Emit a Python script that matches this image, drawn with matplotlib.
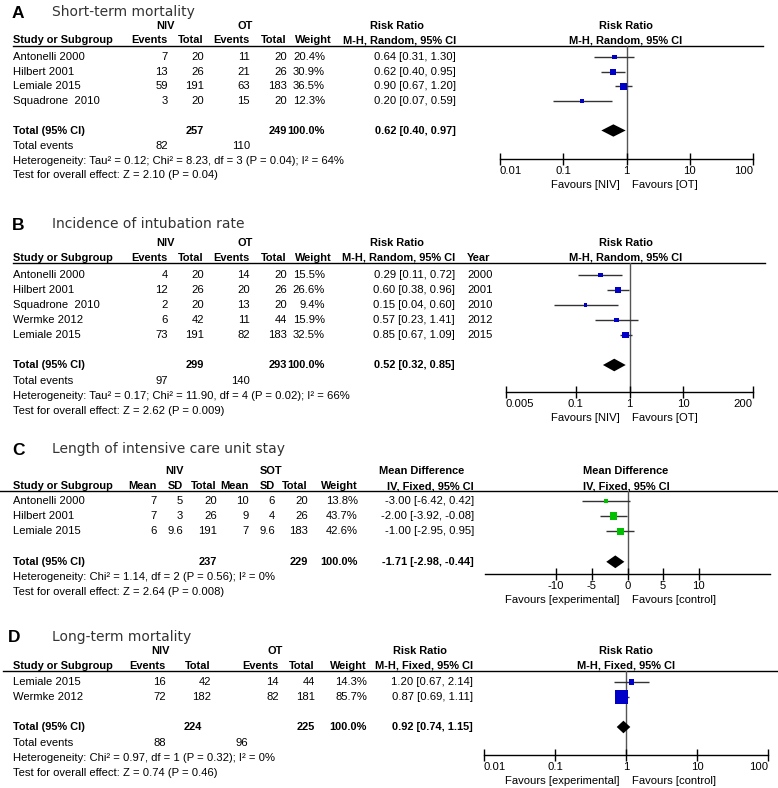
#!/usr/bin/env python
import numpy as np
import matplotlib
matplotlib.use('Agg')
import matplotlib.pyplot as plt
from matplotlib.ticker import NullLocator

# ---- A: short-term mortality
studies_a = ['Antonelli 2000', 'Hilbert 2001', 'Lemiale 2015', 'Squadrone  2010']
niv_ev_a = [7, 13, 59, 3]
niv_n_a = [20, 26, 191, 20]
ot_ev_a = [11, 21, 63, 15]
ot_n_a = [20, 26, 183, 20]
weight_a = [20.4, 30.9, 36.5, 12.3]
rr_a = [0.64, 0.62, 0.90, 0.20]
lo_a = [0.31, 0.40, 0.67, 0.07]
hi_a = [1.30, 0.95, 1.20, 0.59]
total_n_a = [257, 249]
total_rr_a = [0.62, 0.40, 0.97]
events_a = [82, 110]
stats_a = ['Heterogeneity: Tau\u00b2 = 0.12; Chi\u00b2 = 8.23, df = 3 (P = 0.04); I\u00b2 = 64%',
           'Test for overall effect: Z = 2.10 (P = 0.04)']

# ---- B: incidence of intubation
studies_b = ['Antonelli 2000', 'Hilbert 2001', 'Squadrone  2010', 'Wermke 2012', 'Lemiale 2015']
niv_ev_b = [4, 12, 2, 6, 73]
niv_n_b = [20, 26, 20, 42, 191]
ot_ev_b = [14, 20, 13, 11, 82]
ot_n_b = [20, 26, 20, 44, 183]
weight_b = [15.5, 26.6, 9.4, 15.9, 32.5]
rr_b = [0.29, 0.60, 0.15, 0.57, 0.85]
lo_b = [0.11, 0.38, 0.04, 0.23, 0.67]
hi_b = [0.72, 0.96, 0.60, 1.41, 1.09]
years_b = [2000, 2001, 2010, 2012, 2015]
total_n_b = [299, 293]
total_rr_b = [0.52, 0.32, 0.85]
events_b = [97, 140]
stats_b = ['Heterogeneity: Tau\u00b2 = 0.17; Chi\u00b2 = 11.90, df = 4 (P = 0.02); I\u00b2 = 66%',
           'Test for overall effect: Z = 2.62 (P = 0.009)']

# ---- C: ICU length of stay
studies_c = ['Antonelli 2000', 'Hilbert 2001', 'Lemiale 2015']
niv_mean_c = [7, 7, 6]
niv_sd_c = [5, 3, 9.6]
niv_n_c = [20, 26, 191]
sot_mean_c = [10, 9, 7]
sot_sd_c = [6, 4, 9.6]
sot_n_c = [20, 26, 183]
weight_c = [13.8, 43.7, 42.6]
md_c = [-3.00, -2.00, -1.00]
lo_c = [-6.42, -3.92, -2.95]
hi_c = [0.42, -0.08, 0.95]
total_n_c = [237, 229]
total_md_c = [-1.71, -2.98, -0.44]
stats_c = ['Heterogeneity: Chi\u00b2 = 1.14, df = 2 (P = 0.56); I\u00b2 = 0%',
           'Test for overall effect: Z = 2.64 (P = 0.008)']

# ---- D: long-term mortality
studies_d = ['Lemiale 2015', 'Wermke 2012']
niv_ev_d = [16, 72]
niv_n_d = [42, 182]
ot_ev_d = [14, 82]
ot_n_d = [44, 181]
weight_d = [14.3, 85.7]
rr_d = [1.20, 0.87]
lo_d = [0.67, 0.69]
hi_d = [2.14, 1.11]
total_n_d = [224, 225]
total_rr_d = [0.92, 0.74, 1.15]
events_d = [88, 96]
stats_d = ['Heterogeneity: Chi\u00b2 = 0.97, df = 1 (P = 0.32); I\u00b2 = 0%',
           'Test for overall effect: Z = 0.74 (P = 0.46)']

W, H = 778, 788
FS = 8.1
plt.rcParams['font.family'] = ['Liberation Sans', 'DejaVu Sans']

fig = plt.figure(figsize=(W / 100, H / 100), dpi=100)
bg = fig.add_axes([0, 0, 1, 1])
bg.set_xlim(0, W)
bg.set_ylim(H, 0)
bg.axis('off')


def t(x, y, s, ha='left', bold=False, size=None, **kw):
    if size is None:
        size = 7.9 if bold else FS
    bg.text(x, y, s, ha=ha, va='center', fontsize=size,
            fontweight='bold' if bold else 'normal', **kw)


def title(L, letter, name):
    t(L['letter_x'], L['y_title'] + 1, letter, bold=True, size=12.5)
    t(52, L['y_title'], name, size=10, family='DejaVu Sans', color='#333333')


def fmt_ci(e, l, h):
    return '%.2f [%.2f, %.2f]' % (e, l, h)


def forest(L, est, lo, hi, wt, tot, color, ref):
    x0, x1 = L['ax_x']
    ytop, ybot = L['y_line'], L['y_axis']
    ax = fig.add_axes([x0 / W, 1 - ybot / H, (x1 - x0) / W, (ybot - ytop) / H])
    ax.patch.set_visible(False)
    if L['log']:
        ax.set_xscale('log')
    ax.set_xlim(L['xlim'])
    ax.set_ylim((ybot - L['row0']) / L['pitch'], (ytop - L['row0']) / L['pitch'])
    rows = np.arange(len(est))
    ax.axvline(ref, color='#555555', lw=1, zorder=1)
    ax.hlines(rows, lo, hi, color='#333333', lw=1, zorder=2)
    ax.scatter(est, rows, s=(L['k'] * 0.72) ** 2 * np.array(wt), marker='s',
               color=color, lw=0, zorder=3)
    r = len(est) + 1
    ax.fill([tot[1], tot[0], tot[2], tot[0]], [r, r - 0.42, r, r + 0.42],
            color='black', lw=0, zorder=3)
    for s in ['left', 'right', 'top']:
        ax.spines[s].set_visible(False)
    ax.spines['bottom'].set_linewidth(1)
    ax.set_yticks([])
    ax.xaxis.set_minor_locator(NullLocator())
    ax.set_xticks(L['ticks'])
    labs = ax.set_xticklabels(L['ticklabels'])
    if L['ends_inside']:
        labs[0].set_ha('left')
        labs[-1].set_ha('right')
    ax.tick_params(axis='x', direction='inout', length=8, width=1,
                   labelsize=FS, pad=1)
    t(620, L['y_axis'] + 26, L['fav'][0], ha='right')
    t(632, L['y_axis'] + 26, L['fav'][1])


def binary_panel(L, letter, name, studies, ne, nn, oe, on, wt, est, lo, hi,
                 tot_n, tot, events, stats, years=None):
    title(L, letter, name)
    y1, y2 = L['y_h1'], L['y_h2']
    c = L['cols']
    t(c['niv_h'], y1, 'NIV', ha='center', bold=True)
    t(c['ot_h'], y1, 'OT', ha='center', bold=True)
    t(c['rr_h'], y1, 'Risk Ratio', ha='center', bold=True)
    t(626, y1, 'Risk Ratio', ha='center', bold=True)
    t(13, y2, 'Study or Subgroup', bold=True)
    t(c['ne'], y2, 'Events', ha='right', bold=True)
    t(c['nn'], y2, 'Total', ha='right', bold=True)
    t(c['oe'], y2, 'Events', ha='right', bold=True)
    t(c['on'], y2, 'Total', ha='right', bold=True)
    t(c['wt_h'], y2, 'Weight', ha='right', bold=True)
    t(c['rr'], y2, L['method'], ha='right', bold=True)
    t(626, y2, L['method'], ha='center', bold=True)
    if years is not None:
        t(c['year'], y2, 'Year', bold=True)
    bg.plot(L['line_x'], [L['y_line']] * 2, color='black', lw=1)
    for i in range(len(studies)):
        y = L['row0'] + i * L['pitch']
        t(13, y, studies[i])
        t(c['ne'], y, str(ne[i]), ha='right')
        t(c['nn'], y, str(nn[i]), ha='right')
        t(c['oe'], y, str(oe[i]), ha='right')
        t(c['on'], y, str(on[i]), ha='right')
        t(c['wt'], y, '%.1f%%' % wt[i], ha='right')
        t(c['rr'], y, fmt_ci(est[i], lo[i], hi[i]), ha='right')
        if years is not None:
            t(c['year'], y, str(years[i]))
    yt = L['row0'] + (len(studies) + 1) * L['pitch']
    p = L['pitch']
    t(13, yt, 'Total (95% CI)', bold=True)
    t(c['tot_nn'], yt, str(tot_n[0]), ha='right', bold=True)
    t(c['on'], yt, str(tot_n[1]), ha='right', bold=True)
    t(c['wt'], yt, '100.0%', ha='right', bold=True)
    t(c['rr'], yt, fmt_ci(*tot), ha='right', bold=True)
    t(13, yt + p * 1.05, 'Total events')
    t(c['ne'], yt + p * 1.05, str(events[0]), ha='right')
    t(c['tot_oe'], yt + p * 1.05, str(events[1]), ha='right')
    t(13, yt + p * 2.05, stats[0])
    t(13, yt + p * 3.05, stats[1])
    forest(L, est, lo, hi, wt, tot, '#0000C8', 1)


LA = dict(letter_x=12, y_title=12, y_h1=26, y_h2=40, y_line=45.5, line_x=[13, 763],
          row0=57, pitch=14.7, y_axis=159, ax_x=(500, 753), log=True,
          xlim=(0.01, 100), ticks=[0.01, 0.1, 1, 10, 100],
          ticklabels=['0.01', '0.1', '1', '10', '100'], ends_inside=True,
          fav=('Favours [NIV]', 'Favours [OT]'), k=1.1, method='M-H, Random, 95% CI',
          cols=dict(niv_h=166, ot_h=245, rr_h=397, ne=168, nn=204, oe=250, on=287,
                    wt=325, wt_h=332, rr=456, tot_nn=204, tot_oe=250))
binary_panel(LA, 'A', 'Short-term mortality', studies_a, niv_ev_a, niv_n_a, ot_ev_a,
             ot_n_a, weight_a, rr_a, lo_a, hi_a, total_n_a, total_rr_a, events_a, stats_a)

LB = dict(letter_x=12, y_title=224, y_h1=243, y_h2=258, y_line=263, line_x=[13, 765],
          row0=275, pitch=15, y_axis=392, ax_x=(506, 753), log=True,
          xlim=(0.005, 200), ticks=[0.005, 0.1, 1, 10, 200],
          ticklabels=['0.005', '0.1', '1', '10', '200'], ends_inside=True,
          fav=('Favours [NIV]', 'Favours [OT]'), k=1.13, method='M-H, Random, 95% CI',
          cols=dict(niv_h=166, ot_h=245, rr_h=397, ne=168, nn=204, oe=250, on=287,
                    wt=325, wt_h=332, rr=455, tot_nn=204, tot_oe=250, year=467))
binary_panel(LB, 'B', 'Incidence of intubation rate', studies_b, niv_ev_b, niv_n_b,
             ot_ev_b, ot_n_b, weight_b, rr_b, lo_b, hi_b, total_n_b, total_rr_b,
             events_b, stats_b, years=years_b)

# ---- C (continuous outcome)
LC = dict(letter_x=12, y_title=449, y_h1=471, y_h2=486, y_line=491, line_x=[0, 778],
          row0=501, pitch=15.2, y_axis=574, ax_x=(485, 770), log=False,
          xlim=(-20, 20), ticks=[-10, -5, 0, 5, 10],
          ticklabels=['-10', '-5', '0', '5', '10'], ends_inside=False,
          fav=('Favours [experimental]', 'Favours [control]'), k=1.12)
title(LC, 'C', 'Length of intensive care unit stay')
t(175, LC['y_h1'], 'NIV', ha='center', bold=True)
t(271, LC['y_h1'], 'SOT', ha='center', bold=True)
t(422, LC['y_h1'], 'Mean Difference', ha='center', bold=True)
t(626, LC['y_h1'], 'Mean Difference', ha='center', bold=True)
xc = [157, 183, 217, 249, 275, 308]
for x, s in zip(xc, ['Mean', 'SD', 'Total', 'Mean', 'SD', 'Total']):
    t(x, LC['y_h2'], s, ha='right', bold=True)
t(13, LC['y_h2'], 'Study or Subgroup', bold=True)
t(358, LC['y_h2'], 'Weight', ha='right', bold=True)
t(474, LC['y_h2'], 'IV, Fixed, 95% CI', ha='right', bold=True)
t(626, LC['y_h2'], 'IV, Fixed, 95% CI', ha='center', bold=True)
bg.plot(LC['line_x'], [LC['y_line']] * 2, color='black', lw=1)
for i in range(len(studies_c)):
    y = LC['row0'] + i * LC['pitch']
    t(13, y, studies_c[i])
    vals = [niv_mean_c[i], niv_sd_c[i], niv_n_c[i], sot_mean_c[i], sot_sd_c[i], sot_n_c[i]]
    for x, v in zip(xc, vals):
        t(x, y, '%g' % v, ha='right')
    t(358, y, '%.1f%%' % weight_c[i], ha='right')
    t(474, y, fmt_ci(md_c[i], lo_c[i], hi_c[i]), ha='right')
yt = LC['row0'] + (len(studies_c) + 1) * LC['pitch']
t(13, yt, 'Total (95% CI)', bold=True)
t(217, yt, str(total_n_c[0]), ha='right', bold=True)
t(308, yt, str(total_n_c[1]), ha='right', bold=True)
t(358, yt, '100.0%', ha='right', bold=True)
t(474, yt, fmt_ci(*total_md_c), ha='right', bold=True)
t(13, yt + 15, stats_c[0])
t(13, yt + 30, stats_c[1])
forest(LC, md_c, lo_c, hi_c, weight_c, total_md_c, '#00C000', 0)

LD = dict(letter_x=8, y_title=637, y_h1=651, y_h2=666, y_line=671, line_x=[3, 778],
          row0=682, pitch=15, y_axis=755, ax_x=(484, 768), log=True,
          xlim=(0.01, 100), ticks=[0.01, 0.1, 1, 10, 100],
          ticklabels=['0.01', '0.1', '1', '10', '100'], ends_inside=True,
          fav=('Favours [experimental]', 'Favours [control]'), k=1.45,
          method='M-H, Fixed, 95% CI',
          cols=dict(niv_h=161, ot_h=275, rr_h=420, ne=166, nn=211, oe=279, on=315,
                    wt=367, wt_h=367, rr=473, tot_nn=202, tot_oe=248))
binary_panel(LD, 'D', 'Long-term mortality', studies_d, niv_ev_d, niv_n_d, ot_ev_d,
             ot_n_d, weight_d, rr_d, lo_d, hi_d, total_n_d, total_rr_d, events_d, stats_d)

plt.savefig('out.png', dpi=100)
